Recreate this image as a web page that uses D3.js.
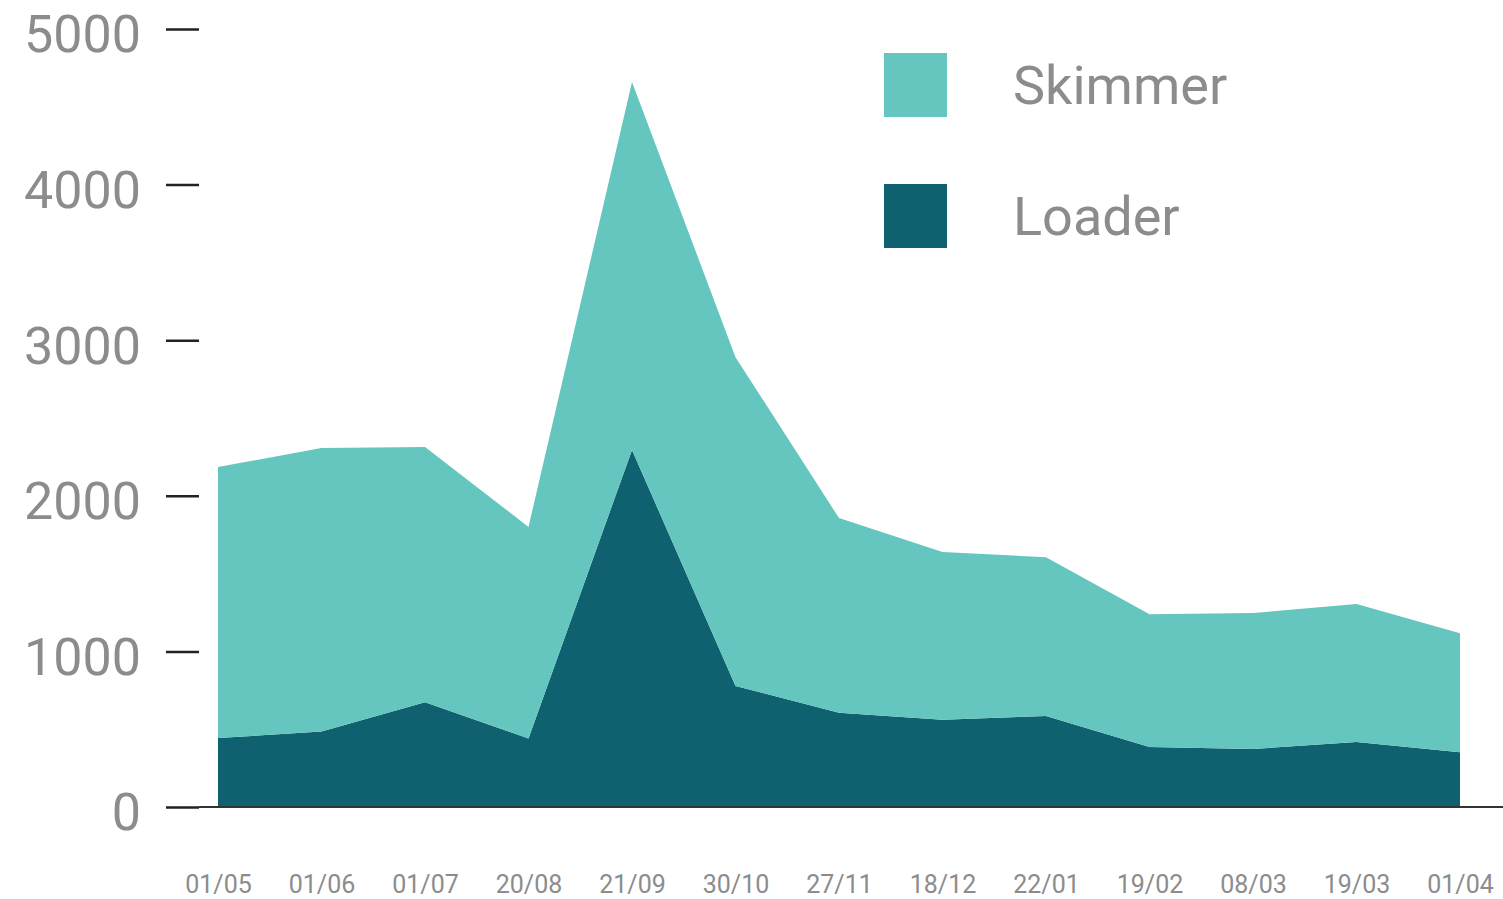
<!DOCTYPE html>
<html>
<head>
<meta charset="utf-8">
<script src="https://cdn.jsdelivr.net/npm/d3@7"></script>
<style>
  html, body { margin: 0; padding: 0; background: #fff; }
  svg { display: block; font-family: Roboto, "Noto Sans", sans-serif; }
</style>
</head>
<body>
<svg id="chart" width="1503" height="899"></svg>
<script>
const dates = ["01/05","01/06","01/07","20/08","21/09","30/10","27/11","18/12","22/01","19/02","08/03","19/03","01/04"];
const loader  = [443, 485, 673, 440, 2295, 778, 605, 560, 585, 385, 373, 418, 352];
const skimmer = [1742, 1822, 1641, 1360, 2364, 2113, 1252, 1079, 1020, 853, 873, 887, 765];
const yTicks = [0, 1000, 2000, 3000, 4000, 5000];
const seriesNames = ["Loader", "Skimmer"];
const colors = {Loader: "#0f616f", Skimmer: "#64c6bf"};

const rows = dates.map((d, i) => ({date: d, Loader: loader[i], Skimmer: skimmer[i]}));

const svg = d3.select("#chart");
const x = d3.scalePoint().domain(dates).range([218, 1460]);
const y = d3.scaleLinear().domain([0, 5000]).range([807, 29]);

const stacked = d3.stack().keys(seriesNames)(rows);
const area = d3.area()
  .x(d => x(d.data.date))
  .y0(d => y(d[0]))
  .y1(d => y(d[1]));

svg.append("g").selectAll("path")
  .data(stacked)
  .join("path")
  .attr("d", area)
  .attr("fill", d => colors[d.key]);

// baseline
svg.append("line")
  .attr("x1", 199).attr("x2", 1503)
  .attr("y1", y(0)).attr("y2", y(0))
  .attr("stroke", "#333").attr("stroke-width", 2);

// y axis
const yAxis = svg.append("g")
  .attr("transform", "translate(199,0)")
  .call(d3.axisLeft(y).tickValues(yTicks).tickSize(33).tickPadding(25).tickFormat(d3.format("d")));
yAxis.select(".domain").remove();
yAxis.selectAll(".tick line").attr("stroke", "#222").attr("stroke-width", 2.5);
yAxis.selectAll(".tick text")
  .attr("fill", "#8c8c8c")
  .attr("font-size", 52)
  .attr("font-family", "Roboto, sans-serif")
  .attr("dy", "0.44em");

// x axis
const xAxis = svg.append("g")
  .attr("transform", "translate(0,807)")
  .call(d3.axisBottom(x).tickSize(0).tickPadding(0));
xAxis.select(".domain").remove();
xAxis.selectAll(".tick text")
  .attr("fill", "#8c8c8c")
  .attr("font-size", 25)
  .attr("font-family", "Roboto, sans-serif")
  .attr("y", 86)
  .attr("dy", "0");

// legend
const legendItems = ["Skimmer", "Loader"];
const lg = svg.append("g");
const legendY = d3.scalePoint().domain(legendItems).range([53, 184]);
legendItems.forEach(name => {
  lg.append("rect")
    .attr("x", 884).attr("y", legendY(name))
    .attr("width", 63).attr("height", 64)
    .attr("fill", colors[name]);
  lg.append("text")
    .attr("x", 1013).attr("y", legendY(name) + 51)
    .attr("fill", "#8c8c8c")
    .attr("font-size", 54)
    .text(name);
});
</script>
</body>
</html>
